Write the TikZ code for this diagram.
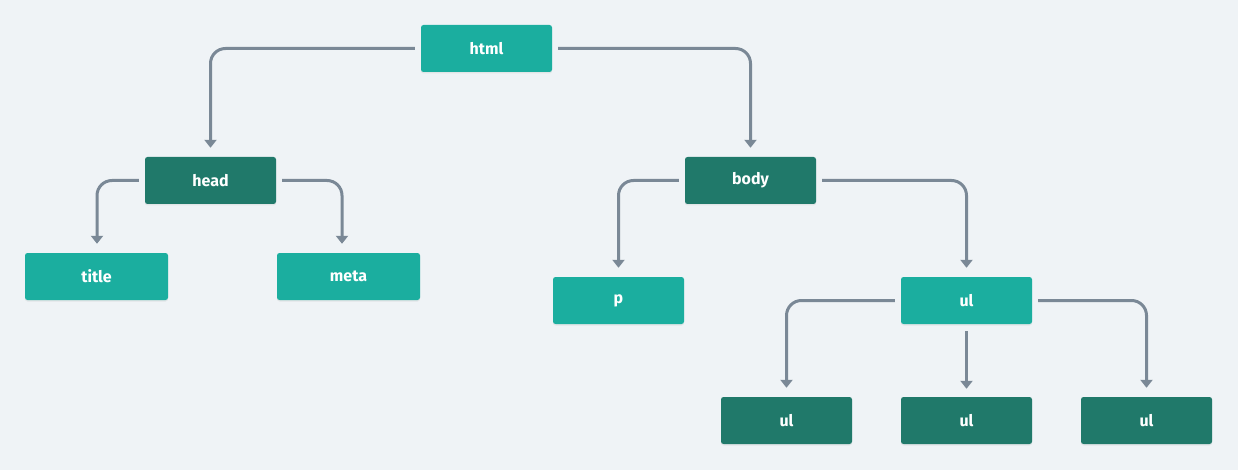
\documentclass[tikz,border=0pt]{standalone}
\usepackage{fontspec}
\setmainfont{Fira Sans}
\usetikzlibrary{arrows.meta,shadows}
\definecolor{bgc}{HTML}{EFF3F6}
\definecolor{tealc}{HTML}{1BAE9F}
\definecolor{darkc}{HTML}{20796A}
\definecolor{edgec}{HTML}{7A8896}
\tikzset{
  box/.style={rounded corners=2.5pt, minimum width=131pt, minimum height=47pt, inner sep=0pt,
    text=white, font=\fontsize{16}{19}\selectfont\bfseries,
    drop shadow={opacity=0.12, shadow xshift=0pt, shadow yshift=-1.5pt}},
  lightbox/.style={box, fill=tealc},
  darkbox/.style={box, fill=darkc},
  wide/.style={minimum width=143pt},
  edge/.style={draw=edgec, line width=3pt, rounded corners=15pt,
    -{Triangle[width=12pt,length=8pt]}, shorten <=6pt, shorten >=9pt}
}
\begin{document}
\begin{tikzpicture}[x=1pt,y=-1pt]
\fill[bgc] (0,0) rectangle (1238,470);
\useasboundingbox (0,0) rectangle (1238,470);
\node[lightbox] (html) at (486.5,48.5) {html};
\node[darkbox] (head) at (210.5,180.5) {head};
\node[darkbox] (body) at (750.5,180.5) {body};
\node[lightbox,wide] (title) at (96.5,276.5) {title};
\node[lightbox,wide] (meta) at (348.5,276.5) {meta};
\node[lightbox] (p) at (618.5,300.5) {p};
\node[lightbox] (ul) at (966.5,300.5) {ul};
\node[darkbox] (ul1) at (786.5,420.5) {ul};
\node[darkbox] (ul2) at (966.5,420.5) {ul};
\node[darkbox] (ul3) at (1146.5,420.5) {ul};
\draw[edge] (html.west) -| (head.north);
\draw[edge] (html.east) -| (body.north);
\draw[edge] (head.west) -| (title.north -| 97,0);
\draw[edge] (head.east) -| (meta.north -| 342,0);
\draw[edge] (body.west) -| (p.north);
\draw[edge] (body.east) -| (ul.north);
\draw[edge] (ul.west) -| (ul1.north);
\draw[edge, shorten <=7pt, shorten >=8pt] (ul.south) -- (ul2.north);
\draw[edge] (ul.east) -| (ul3.north);
\end{tikzpicture}
\end{document}
